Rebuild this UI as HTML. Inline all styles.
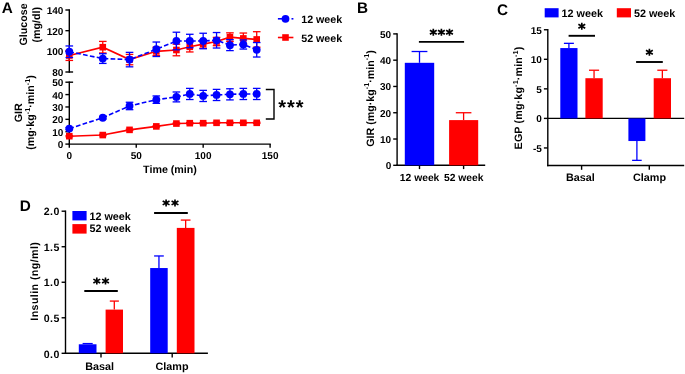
<!DOCTYPE html>
<html><head><meta charset="utf-8"><style>
html,body{margin:0;padding:0;background:#fff;}
body{width:685px;height:374px;overflow:hidden;}
svg{display:block;font-family:"Liberation Sans",sans-serif;will-change:transform;text-rendering:geometricPrecision;}
</style></head><body>
<svg width="685" height="374" viewBox="0 0 685 374">
<rect width="685" height="374" fill="#fff"/>
<text x="1.80" y="12.70" font-size="15.3" text-anchor="start" font-weight="bold" >A</text>
<line x1="69.30" y1="9.30" x2="69.30" y2="72.70" stroke="#000" stroke-width="1.4" />
<line x1="65.40" y1="10.00" x2="69.30" y2="10.00" stroke="#000" stroke-width="1.4" />
<line x1="65.40" y1="30.67" x2="69.30" y2="30.67" stroke="#000" stroke-width="1.4" />
<line x1="65.40" y1="51.33" x2="69.30" y2="51.33" stroke="#000" stroke-width="1.4" />
<line x1="65.40" y1="72.00" x2="73.10" y2="72.00" stroke="#000" stroke-width="1.4" />
<text x="63.40" y="13.95" font-size="10" text-anchor="end" font-weight="bold" >140</text>
<text x="63.40" y="34.62" font-size="10" text-anchor="end" font-weight="bold" >120</text>
<text x="63.40" y="55.28" font-size="10" text-anchor="end" font-weight="bold" >100</text>
<text x="63.40" y="75.95" font-size="10" text-anchor="end" font-weight="bold" >80</text>
<line x1="69.30" y1="81.50" x2="69.30" y2="144.10" stroke="#000" stroke-width="1.4" />
<line x1="65.40" y1="82.20" x2="73.10" y2="82.20" stroke="#000" stroke-width="1.4" />
<line x1="65.40" y1="94.58" x2="69.30" y2="94.58" stroke="#000" stroke-width="1.4" />
<line x1="65.40" y1="106.96" x2="69.30" y2="106.96" stroke="#000" stroke-width="1.4" />
<line x1="65.40" y1="119.34" x2="69.30" y2="119.34" stroke="#000" stroke-width="1.4" />
<line x1="65.40" y1="131.72" x2="69.30" y2="131.72" stroke="#000" stroke-width="1.4" />
<line x1="65.40" y1="144.10" x2="69.30" y2="144.10" stroke="#000" stroke-width="1.4" />
<text x="63.40" y="86.15" font-size="10" text-anchor="end" font-weight="bold" >50</text>
<text x="63.40" y="98.53" font-size="10" text-anchor="end" font-weight="bold" >40</text>
<text x="63.40" y="110.91" font-size="10" text-anchor="end" font-weight="bold" >30</text>
<text x="63.40" y="123.29" font-size="10" text-anchor="end" font-weight="bold" >20</text>
<text x="63.40" y="135.67" font-size="10" text-anchor="end" font-weight="bold" >10</text>
<text x="63.40" y="148.05" font-size="10" text-anchor="end" font-weight="bold" >0</text>
<line x1="68.60" y1="144.10" x2="270.81" y2="144.10" stroke="#000" stroke-width="1.4" />
<line x1="69.30" y1="144.10" x2="69.30" y2="147.80" stroke="#000" stroke-width="1.4" />
<text x="69.30" y="159.30" font-size="10" text-anchor="middle" font-weight="bold" >0</text>
<line x1="136.24" y1="144.10" x2="136.24" y2="147.80" stroke="#000" stroke-width="1.4" />
<text x="136.24" y="159.30" font-size="10" text-anchor="middle" font-weight="bold" >50</text>
<line x1="203.17" y1="144.10" x2="203.17" y2="147.80" stroke="#000" stroke-width="1.4" />
<text x="203.17" y="159.30" font-size="10" text-anchor="middle" font-weight="bold" >100</text>
<line x1="270.11" y1="144.10" x2="270.11" y2="147.80" stroke="#000" stroke-width="1.4" />
<text x="270.11" y="159.30" font-size="10" text-anchor="middle" font-weight="bold" >150</text>
<text x="170.00" y="172.60" font-size="10.7" text-anchor="middle" font-weight="bold" >Time (min)</text>
<text x="27.40" y="24.50" font-size="10.7" text-anchor="middle" font-weight="bold" transform="rotate(-90 27.40 24.50)" >Glucose</text>
<text x="40.50" y="24.70" font-size="10.7" text-anchor="middle" font-weight="bold" transform="rotate(-90 40.50 24.70)" >(mg/dl)</text>
<text x="21.60" y="112.80" font-size="10.7" text-anchor="middle" font-weight="bold" transform="rotate(-90 21.60 112.80)" >GIR</text>
<text x="34.00" y="112.50" font-size="10.7" text-anchor="middle" font-weight="bold" transform="rotate(-90 34.00 112.50)" >(mg·kg<tspan dy="-4.2" font-size="7.2">-1</tspan><tspan dy="4.2">·min</tspan><tspan dy="-4.2" font-size="7.2">-1</tspan><tspan dy="4.2">)</tspan></text>
<polyline points="69.30,55.47 102.77,47.20 129.54,59.60 156.32,51.33 176.40,49.99 189.78,46.79 203.17,44.10 216.56,41.52 229.94,37.18 243.33,38.42 256.72,39.45" fill="none" stroke="#ff0000" stroke-width="1.6" />
<line x1="69.30" y1="50.51" x2="69.30" y2="60.43" stroke="#ff0000" stroke-width="1.3" />
<line x1="65.50" y1="50.51" x2="73.10" y2="50.51" stroke="#ff0000" stroke-width="1.3" />
<line x1="65.50" y1="60.43" x2="73.10" y2="60.43" stroke="#ff0000" stroke-width="1.3" />
<line x1="102.77" y1="41.41" x2="102.77" y2="52.99" stroke="#ff0000" stroke-width="1.3" />
<line x1="98.97" y1="41.41" x2="106.57" y2="41.41" stroke="#ff0000" stroke-width="1.3" />
<line x1="98.97" y1="52.99" x2="106.57" y2="52.99" stroke="#ff0000" stroke-width="1.3" />
<line x1="129.54" y1="54.43" x2="129.54" y2="64.77" stroke="#ff0000" stroke-width="1.3" />
<line x1="125.74" y1="54.43" x2="133.34" y2="54.43" stroke="#ff0000" stroke-width="1.3" />
<line x1="125.74" y1="64.77" x2="133.34" y2="64.77" stroke="#ff0000" stroke-width="1.3" />
<line x1="156.32" y1="47.20" x2="156.32" y2="55.47" stroke="#ff0000" stroke-width="1.3" />
<line x1="152.52" y1="47.20" x2="160.12" y2="47.20" stroke="#ff0000" stroke-width="1.3" />
<line x1="152.52" y1="55.47" x2="160.12" y2="55.47" stroke="#ff0000" stroke-width="1.3" />
<line x1="176.40" y1="44.20" x2="176.40" y2="55.78" stroke="#ff0000" stroke-width="1.3" />
<line x1="172.60" y1="44.20" x2="180.20" y2="44.20" stroke="#ff0000" stroke-width="1.3" />
<line x1="172.60" y1="55.78" x2="180.20" y2="55.78" stroke="#ff0000" stroke-width="1.3" />
<line x1="189.78" y1="41.62" x2="189.78" y2="51.95" stroke="#ff0000" stroke-width="1.3" />
<line x1="185.98" y1="41.62" x2="193.58" y2="41.62" stroke="#ff0000" stroke-width="1.3" />
<line x1="185.98" y1="51.95" x2="193.58" y2="51.95" stroke="#ff0000" stroke-width="1.3" />
<line x1="203.17" y1="39.97" x2="203.17" y2="48.23" stroke="#ff0000" stroke-width="1.3" />
<line x1="199.37" y1="39.97" x2="206.97" y2="39.97" stroke="#ff0000" stroke-width="1.3" />
<line x1="199.37" y1="48.23" x2="206.97" y2="48.23" stroke="#ff0000" stroke-width="1.3" />
<line x1="216.56" y1="37.38" x2="216.56" y2="45.65" stroke="#ff0000" stroke-width="1.3" />
<line x1="212.76" y1="37.38" x2="220.36" y2="37.38" stroke="#ff0000" stroke-width="1.3" />
<line x1="212.76" y1="45.65" x2="220.36" y2="45.65" stroke="#ff0000" stroke-width="1.3" />
<line x1="229.94" y1="32.84" x2="229.94" y2="41.52" stroke="#ff0000" stroke-width="1.3" />
<line x1="226.14" y1="32.84" x2="233.74" y2="32.84" stroke="#ff0000" stroke-width="1.3" />
<line x1="226.14" y1="41.52" x2="233.74" y2="41.52" stroke="#ff0000" stroke-width="1.3" />
<line x1="243.33" y1="33.04" x2="243.33" y2="43.79" stroke="#ff0000" stroke-width="1.3" />
<line x1="239.53" y1="33.04" x2="247.13" y2="33.04" stroke="#ff0000" stroke-width="1.3" />
<line x1="239.53" y1="43.79" x2="247.13" y2="43.79" stroke="#ff0000" stroke-width="1.3" />
<line x1="256.72" y1="31.70" x2="256.72" y2="47.20" stroke="#ff0000" stroke-width="1.3" />
<line x1="252.92" y1="31.70" x2="260.52" y2="31.70" stroke="#ff0000" stroke-width="1.3" />
<line x1="252.92" y1="47.20" x2="260.52" y2="47.20" stroke="#ff0000" stroke-width="1.3" />
<rect x="66.00" y="52.17" width="6.60" height="6.60" fill="#ff0000"/>
<rect x="99.47" y="43.90" width="6.60" height="6.60" fill="#ff0000"/>
<rect x="126.24" y="56.30" width="6.60" height="6.60" fill="#ff0000"/>
<rect x="153.02" y="48.03" width="6.60" height="6.60" fill="#ff0000"/>
<rect x="173.10" y="46.69" width="6.60" height="6.60" fill="#ff0000"/>
<rect x="186.48" y="43.49" width="6.60" height="6.60" fill="#ff0000"/>
<rect x="199.87" y="40.80" width="6.60" height="6.60" fill="#ff0000"/>
<rect x="213.26" y="38.22" width="6.60" height="6.60" fill="#ff0000"/>
<rect x="226.64" y="33.88" width="6.60" height="6.60" fill="#ff0000"/>
<rect x="240.03" y="35.12" width="6.60" height="6.60" fill="#ff0000"/>
<rect x="253.42" y="36.15" width="6.60" height="6.60" fill="#ff0000"/>
<polyline points="69.30,51.75 102.77,58.57 129.54,59.60 156.32,49.27 176.40,41.00 189.78,41.00 203.17,41.00 216.56,40.28 229.94,45.13 243.33,44.51 256.72,49.78" fill="none" stroke="#0000ff" stroke-width="1.6" stroke-dasharray="4.7 2.3"/>
<line x1="69.30" y1="45.96" x2="69.30" y2="57.53" stroke="#0000ff" stroke-width="1.3" />
<line x1="65.50" y1="45.96" x2="73.10" y2="45.96" stroke="#0000ff" stroke-width="1.3" />
<line x1="65.50" y1="57.53" x2="73.10" y2="57.53" stroke="#0000ff" stroke-width="1.3" />
<line x1="102.77" y1="53.71" x2="102.77" y2="63.42" stroke="#0000ff" stroke-width="1.3" />
<line x1="98.97" y1="53.71" x2="106.57" y2="53.71" stroke="#0000ff" stroke-width="1.3" />
<line x1="98.97" y1="63.42" x2="106.57" y2="63.42" stroke="#0000ff" stroke-width="1.3" />
<line x1="129.54" y1="52.37" x2="129.54" y2="66.83" stroke="#0000ff" stroke-width="1.3" />
<line x1="125.74" y1="52.37" x2="133.34" y2="52.37" stroke="#0000ff" stroke-width="1.3" />
<line x1="125.74" y1="66.83" x2="133.34" y2="66.83" stroke="#0000ff" stroke-width="1.3" />
<line x1="156.32" y1="42.03" x2="156.32" y2="56.50" stroke="#0000ff" stroke-width="1.3" />
<line x1="152.52" y1="42.03" x2="160.12" y2="42.03" stroke="#0000ff" stroke-width="1.3" />
<line x1="152.52" y1="56.50" x2="160.12" y2="56.50" stroke="#0000ff" stroke-width="1.3" />
<line x1="176.40" y1="32.22" x2="176.40" y2="49.78" stroke="#0000ff" stroke-width="1.3" />
<line x1="172.60" y1="32.22" x2="180.20" y2="32.22" stroke="#0000ff" stroke-width="1.3" />
<line x1="172.60" y1="49.78" x2="180.20" y2="49.78" stroke="#0000ff" stroke-width="1.3" />
<line x1="189.78" y1="34.28" x2="189.78" y2="47.72" stroke="#0000ff" stroke-width="1.3" />
<line x1="185.98" y1="34.28" x2="193.58" y2="34.28" stroke="#0000ff" stroke-width="1.3" />
<line x1="185.98" y1="47.72" x2="193.58" y2="47.72" stroke="#0000ff" stroke-width="1.3" />
<line x1="203.17" y1="33.25" x2="203.17" y2="48.75" stroke="#0000ff" stroke-width="1.3" />
<line x1="199.37" y1="33.25" x2="206.97" y2="33.25" stroke="#0000ff" stroke-width="1.3" />
<line x1="199.37" y1="48.75" x2="206.97" y2="48.75" stroke="#0000ff" stroke-width="1.3" />
<line x1="216.56" y1="32.53" x2="216.56" y2="48.03" stroke="#0000ff" stroke-width="1.3" />
<line x1="212.76" y1="32.53" x2="220.36" y2="32.53" stroke="#0000ff" stroke-width="1.3" />
<line x1="212.76" y1="48.03" x2="220.36" y2="48.03" stroke="#0000ff" stroke-width="1.3" />
<line x1="229.94" y1="39.66" x2="229.94" y2="50.61" stroke="#0000ff" stroke-width="1.3" />
<line x1="226.14" y1="39.66" x2="233.74" y2="39.66" stroke="#0000ff" stroke-width="1.3" />
<line x1="226.14" y1="50.61" x2="233.74" y2="50.61" stroke="#0000ff" stroke-width="1.3" />
<line x1="243.33" y1="39.97" x2="243.33" y2="49.06" stroke="#0000ff" stroke-width="1.3" />
<line x1="239.53" y1="39.97" x2="247.13" y2="39.97" stroke="#0000ff" stroke-width="1.3" />
<line x1="239.53" y1="49.06" x2="247.13" y2="49.06" stroke="#0000ff" stroke-width="1.3" />
<line x1="256.72" y1="42.55" x2="256.72" y2="57.02" stroke="#0000ff" stroke-width="1.3" />
<line x1="252.92" y1="42.55" x2="260.52" y2="42.55" stroke="#0000ff" stroke-width="1.3" />
<line x1="252.92" y1="57.02" x2="260.52" y2="57.02" stroke="#0000ff" stroke-width="1.3" />
<circle cx="69.30" cy="51.75" r="3.9" fill="#0000ff"/>
<circle cx="102.77" cy="58.57" r="3.9" fill="#0000ff"/>
<circle cx="129.54" cy="59.60" r="3.9" fill="#0000ff"/>
<circle cx="156.32" cy="49.27" r="3.9" fill="#0000ff"/>
<circle cx="176.40" cy="41.00" r="3.9" fill="#0000ff"/>
<circle cx="189.78" cy="41.00" r="3.9" fill="#0000ff"/>
<circle cx="203.17" cy="41.00" r="3.9" fill="#0000ff"/>
<circle cx="216.56" cy="40.28" r="3.9" fill="#0000ff"/>
<circle cx="229.94" cy="45.13" r="3.9" fill="#0000ff"/>
<circle cx="243.33" cy="44.51" r="3.9" fill="#0000ff"/>
<circle cx="256.72" cy="49.78" r="3.9" fill="#0000ff"/>
<polyline points="69.30,136.18 102.77,135.06 129.54,129.86 156.32,126.40 176.40,123.55 189.78,123.18 203.17,123.18 216.56,122.81 229.94,122.81 243.33,122.81 256.72,122.81" fill="none" stroke="#ff0000" stroke-width="1.6" />
<line x1="69.30" y1="135.56" x2="69.30" y2="136.80" stroke="#ff0000" stroke-width="1.3" />
<line x1="65.50" y1="135.56" x2="73.10" y2="135.56" stroke="#ff0000" stroke-width="1.3" />
<line x1="65.50" y1="136.80" x2="73.10" y2="136.80" stroke="#ff0000" stroke-width="1.3" />
<line x1="102.77" y1="134.44" x2="102.77" y2="135.68" stroke="#ff0000" stroke-width="1.3" />
<line x1="98.97" y1="134.44" x2="106.57" y2="134.44" stroke="#ff0000" stroke-width="1.3" />
<line x1="98.97" y1="135.68" x2="106.57" y2="135.68" stroke="#ff0000" stroke-width="1.3" />
<line x1="129.54" y1="129.24" x2="129.54" y2="130.48" stroke="#ff0000" stroke-width="1.3" />
<line x1="125.74" y1="129.24" x2="133.34" y2="129.24" stroke="#ff0000" stroke-width="1.3" />
<line x1="125.74" y1="130.48" x2="133.34" y2="130.48" stroke="#ff0000" stroke-width="1.3" />
<line x1="156.32" y1="125.78" x2="156.32" y2="127.02" stroke="#ff0000" stroke-width="1.3" />
<line x1="152.52" y1="125.78" x2="160.12" y2="125.78" stroke="#ff0000" stroke-width="1.3" />
<line x1="152.52" y1="127.02" x2="160.12" y2="127.02" stroke="#ff0000" stroke-width="1.3" />
<line x1="176.40" y1="122.93" x2="176.40" y2="124.17" stroke="#ff0000" stroke-width="1.3" />
<line x1="172.60" y1="122.93" x2="180.20" y2="122.93" stroke="#ff0000" stroke-width="1.3" />
<line x1="172.60" y1="124.17" x2="180.20" y2="124.17" stroke="#ff0000" stroke-width="1.3" />
<line x1="189.78" y1="122.56" x2="189.78" y2="123.80" stroke="#ff0000" stroke-width="1.3" />
<line x1="185.98" y1="122.56" x2="193.58" y2="122.56" stroke="#ff0000" stroke-width="1.3" />
<line x1="185.98" y1="123.80" x2="193.58" y2="123.80" stroke="#ff0000" stroke-width="1.3" />
<line x1="203.17" y1="122.56" x2="203.17" y2="123.80" stroke="#ff0000" stroke-width="1.3" />
<line x1="199.37" y1="122.56" x2="206.97" y2="122.56" stroke="#ff0000" stroke-width="1.3" />
<line x1="199.37" y1="123.80" x2="206.97" y2="123.80" stroke="#ff0000" stroke-width="1.3" />
<line x1="216.56" y1="122.19" x2="216.56" y2="123.43" stroke="#ff0000" stroke-width="1.3" />
<line x1="212.76" y1="122.19" x2="220.36" y2="122.19" stroke="#ff0000" stroke-width="1.3" />
<line x1="212.76" y1="123.43" x2="220.36" y2="123.43" stroke="#ff0000" stroke-width="1.3" />
<line x1="229.94" y1="122.19" x2="229.94" y2="123.43" stroke="#ff0000" stroke-width="1.3" />
<line x1="226.14" y1="122.19" x2="233.74" y2="122.19" stroke="#ff0000" stroke-width="1.3" />
<line x1="226.14" y1="123.43" x2="233.74" y2="123.43" stroke="#ff0000" stroke-width="1.3" />
<line x1="243.33" y1="122.19" x2="243.33" y2="123.43" stroke="#ff0000" stroke-width="1.3" />
<line x1="239.53" y1="122.19" x2="247.13" y2="122.19" stroke="#ff0000" stroke-width="1.3" />
<line x1="239.53" y1="123.43" x2="247.13" y2="123.43" stroke="#ff0000" stroke-width="1.3" />
<line x1="256.72" y1="122.19" x2="256.72" y2="123.43" stroke="#ff0000" stroke-width="1.3" />
<line x1="252.92" y1="122.19" x2="260.52" y2="122.19" stroke="#ff0000" stroke-width="1.3" />
<line x1="252.92" y1="123.43" x2="260.52" y2="123.43" stroke="#ff0000" stroke-width="1.3" />
<rect x="66.00" y="132.88" width="6.60" height="6.60" fill="#ff0000"/>
<rect x="99.47" y="131.76" width="6.60" height="6.60" fill="#ff0000"/>
<rect x="126.24" y="126.56" width="6.60" height="6.60" fill="#ff0000"/>
<rect x="153.02" y="123.10" width="6.60" height="6.60" fill="#ff0000"/>
<rect x="173.10" y="120.25" width="6.60" height="6.60" fill="#ff0000"/>
<rect x="186.48" y="119.88" width="6.60" height="6.60" fill="#ff0000"/>
<rect x="199.87" y="119.88" width="6.60" height="6.60" fill="#ff0000"/>
<rect x="213.26" y="119.51" width="6.60" height="6.60" fill="#ff0000"/>
<rect x="226.64" y="119.51" width="6.60" height="6.60" fill="#ff0000"/>
<rect x="240.03" y="119.51" width="6.60" height="6.60" fill="#ff0000"/>
<rect x="253.42" y="119.51" width="6.60" height="6.60" fill="#ff0000"/>
<polyline points="69.30,128.62 102.77,117.73 129.54,105.97 156.32,99.66 176.40,96.93 189.78,93.96 203.17,95.94 216.56,94.95 229.94,94.33 243.33,93.96 256.72,93.96" fill="none" stroke="#0000ff" stroke-width="1.6" stroke-dasharray="4.7 2.3"/>
<line x1="69.30" y1="127.63" x2="69.30" y2="129.62" stroke="#0000ff" stroke-width="1.3" />
<line x1="65.50" y1="127.63" x2="73.10" y2="127.63" stroke="#0000ff" stroke-width="1.3" />
<line x1="65.50" y1="129.62" x2="73.10" y2="129.62" stroke="#0000ff" stroke-width="1.3" />
<line x1="102.77" y1="116.49" x2="102.77" y2="118.97" stroke="#0000ff" stroke-width="1.3" />
<line x1="98.97" y1="116.49" x2="106.57" y2="116.49" stroke="#0000ff" stroke-width="1.3" />
<line x1="98.97" y1="118.97" x2="106.57" y2="118.97" stroke="#0000ff" stroke-width="1.3" />
<line x1="129.54" y1="102.26" x2="129.54" y2="109.68" stroke="#0000ff" stroke-width="1.3" />
<line x1="125.74" y1="102.26" x2="133.34" y2="102.26" stroke="#0000ff" stroke-width="1.3" />
<line x1="125.74" y1="109.68" x2="133.34" y2="109.68" stroke="#0000ff" stroke-width="1.3" />
<line x1="156.32" y1="95.94" x2="156.32" y2="103.37" stroke="#0000ff" stroke-width="1.3" />
<line x1="152.52" y1="95.94" x2="160.12" y2="95.94" stroke="#0000ff" stroke-width="1.3" />
<line x1="152.52" y1="103.37" x2="160.12" y2="103.37" stroke="#0000ff" stroke-width="1.3" />
<line x1="176.40" y1="91.98" x2="176.40" y2="101.88" stroke="#0000ff" stroke-width="1.3" />
<line x1="172.60" y1="91.98" x2="180.20" y2="91.98" stroke="#0000ff" stroke-width="1.3" />
<line x1="172.60" y1="101.88" x2="180.20" y2="101.88" stroke="#0000ff" stroke-width="1.3" />
<line x1="189.78" y1="88.39" x2="189.78" y2="99.53" stroke="#0000ff" stroke-width="1.3" />
<line x1="185.98" y1="88.39" x2="193.58" y2="88.39" stroke="#0000ff" stroke-width="1.3" />
<line x1="185.98" y1="99.53" x2="193.58" y2="99.53" stroke="#0000ff" stroke-width="1.3" />
<line x1="203.17" y1="90.37" x2="203.17" y2="101.51" stroke="#0000ff" stroke-width="1.3" />
<line x1="199.37" y1="90.37" x2="206.97" y2="90.37" stroke="#0000ff" stroke-width="1.3" />
<line x1="199.37" y1="101.51" x2="206.97" y2="101.51" stroke="#0000ff" stroke-width="1.3" />
<line x1="216.56" y1="89.38" x2="216.56" y2="100.52" stroke="#0000ff" stroke-width="1.3" />
<line x1="212.76" y1="89.38" x2="220.36" y2="89.38" stroke="#0000ff" stroke-width="1.3" />
<line x1="212.76" y1="100.52" x2="220.36" y2="100.52" stroke="#0000ff" stroke-width="1.3" />
<line x1="229.94" y1="88.76" x2="229.94" y2="99.90" stroke="#0000ff" stroke-width="1.3" />
<line x1="226.14" y1="88.76" x2="233.74" y2="88.76" stroke="#0000ff" stroke-width="1.3" />
<line x1="226.14" y1="99.90" x2="233.74" y2="99.90" stroke="#0000ff" stroke-width="1.3" />
<line x1="243.33" y1="88.39" x2="243.33" y2="99.53" stroke="#0000ff" stroke-width="1.3" />
<line x1="239.53" y1="88.39" x2="247.13" y2="88.39" stroke="#0000ff" stroke-width="1.3" />
<line x1="239.53" y1="99.53" x2="247.13" y2="99.53" stroke="#0000ff" stroke-width="1.3" />
<line x1="256.72" y1="88.39" x2="256.72" y2="99.53" stroke="#0000ff" stroke-width="1.3" />
<line x1="252.92" y1="88.39" x2="260.52" y2="88.39" stroke="#0000ff" stroke-width="1.3" />
<line x1="252.92" y1="99.53" x2="260.52" y2="99.53" stroke="#0000ff" stroke-width="1.3" />
<circle cx="69.30" cy="128.62" r="3.9" fill="#0000ff"/>
<circle cx="102.77" cy="117.73" r="3.9" fill="#0000ff"/>
<circle cx="129.54" cy="105.97" r="3.9" fill="#0000ff"/>
<circle cx="156.32" cy="99.66" r="3.9" fill="#0000ff"/>
<circle cx="176.40" cy="96.93" r="3.9" fill="#0000ff"/>
<circle cx="189.78" cy="93.96" r="3.9" fill="#0000ff"/>
<circle cx="203.17" cy="95.94" r="3.9" fill="#0000ff"/>
<circle cx="216.56" cy="94.95" r="3.9" fill="#0000ff"/>
<circle cx="229.94" cy="94.33" r="3.9" fill="#0000ff"/>
<circle cx="243.33" cy="93.96" r="3.9" fill="#0000ff"/>
<circle cx="256.72" cy="93.96" r="3.9" fill="#0000ff"/>
<polyline points="265.8,89.5 274,89.5 274,119 265.8,119" fill="none" stroke="#000" stroke-width="1.4"/>
<text x="278.20" y="114.00" font-size="20" text-anchor="start" font-weight="bold" letter-spacing="1.0">***</text>
<line x1="277.90" y1="18.80" x2="284.50" y2="18.80" stroke="#0000ff" stroke-width="1.6" />
<line x1="291.50" y1="18.80" x2="293.40" y2="18.80" stroke="#0000ff" stroke-width="1.6" />
<circle cx="285.5" cy="18.8" r="3.9" fill="#0000ff"/>
<line x1="277.90" y1="37.50" x2="293.40" y2="37.50" stroke="#ff0000" stroke-width="1.6" />
<rect x="282.20" y="34.20" width="6.60" height="6.60" fill="#ff0000"/>
<text x="301.20" y="22.90" font-size="10.7" text-anchor="start" font-weight="bold" >12 week</text>
<text x="301.20" y="41.60" font-size="10.7" text-anchor="start" font-weight="bold" >52 week</text>
<text x="357.00" y="12.60" font-size="15.3" text-anchor="start" font-weight="bold" >B</text>
<line x1="397.10" y1="33.20" x2="397.10" y2="165.30" stroke="#000" stroke-width="1.4" />
<line x1="393.20" y1="165.30" x2="397.10" y2="165.30" stroke="#000" stroke-width="1.4" />
<text x="391.20" y="169.25" font-size="10" text-anchor="end" font-weight="bold" >0</text>
<line x1="393.20" y1="139.02" x2="397.10" y2="139.02" stroke="#000" stroke-width="1.4" />
<text x="391.20" y="142.97" font-size="10" text-anchor="end" font-weight="bold" >10</text>
<line x1="393.20" y1="112.74" x2="397.10" y2="112.74" stroke="#000" stroke-width="1.4" />
<text x="391.20" y="116.69" font-size="10" text-anchor="end" font-weight="bold" >20</text>
<line x1="393.20" y1="86.46" x2="397.10" y2="86.46" stroke="#000" stroke-width="1.4" />
<text x="391.20" y="90.41" font-size="10" text-anchor="end" font-weight="bold" >30</text>
<line x1="393.20" y1="60.18" x2="397.10" y2="60.18" stroke="#000" stroke-width="1.4" />
<text x="391.20" y="64.13" font-size="10" text-anchor="end" font-weight="bold" >40</text>
<line x1="393.20" y1="33.90" x2="397.10" y2="33.90" stroke="#000" stroke-width="1.4" />
<text x="391.20" y="37.85" font-size="10" text-anchor="end" font-weight="bold" >50</text>
<line x1="396.40" y1="165.30" x2="485.20" y2="165.30" stroke="#000" stroke-width="1.4" />
<line x1="419.50" y1="165.30" x2="419.50" y2="169.10" stroke="#000" stroke-width="1.4" />
<line x1="463.60" y1="165.30" x2="463.60" y2="169.10" stroke="#000" stroke-width="1.4" />
<rect x="404.80" y="62.81" width="29.40" height="102.49" fill="#0000ff"/>
<line x1="419.50" y1="62.81" x2="419.50" y2="51.51" stroke="#0000ff" stroke-width="1.3" />
<line x1="411.60" y1="51.51" x2="427.40" y2="51.51" stroke="#0000ff" stroke-width="1.3" />
<rect x="449.10" y="120.10" width="29.10" height="45.20" fill="#ff0000"/>
<line x1="463.60" y1="120.10" x2="463.60" y2="112.74" stroke="#ff0000" stroke-width="1.3" />
<line x1="455.80" y1="112.74" x2="471.40" y2="112.74" stroke="#ff0000" stroke-width="1.3" />
<line x1="418.90" y1="41.90" x2="464.10" y2="41.90" stroke="#000" stroke-width="1.9" />
<path d="M433.30 35.70L433.30 28.70M429.88 34.18L436.72 30.23M429.88 30.23L436.72 34.18" stroke="#000" stroke-width="1.65" fill="none"/>
<path d="M441.40 35.70L441.40 28.70M437.98 34.18L444.82 30.23M437.98 30.23L444.82 34.18" stroke="#000" stroke-width="1.65" fill="none"/>
<path d="M449.50 35.70L449.50 28.70M446.08 34.18L452.92 30.23M446.08 30.23L452.92 34.18" stroke="#000" stroke-width="1.65" fill="none"/>
<text x="419.60" y="181.10" font-size="10.3" text-anchor="middle" font-weight="bold" >12 week</text>
<text x="463.70" y="181.10" font-size="10.3" text-anchor="middle" font-weight="bold" >52 week</text>
<text x="373.60" y="98.50" font-size="10.7" text-anchor="middle" font-weight="bold" transform="rotate(-90 373.60 98.50)" >GIR (mg·kg<tspan dy="-4.2" font-size="7.2">-1</tspan><tspan dy="4.2">·min</tspan><tspan dy="-4.2" font-size="7.2">-1</tspan><tspan dy="4.2">)</tspan></text>
<text x="496.90" y="14.50" font-size="15.3" text-anchor="start" font-weight="bold" >C</text>
<line x1="547.80" y1="29.05" x2="547.80" y2="166.20" stroke="#000" stroke-width="1.4" />
<line x1="543.90" y1="29.75" x2="547.80" y2="29.75" stroke="#000" stroke-width="1.4" />
<text x="541.90" y="33.70" font-size="10" text-anchor="end" font-weight="bold" >15</text>
<line x1="543.90" y1="59.30" x2="547.80" y2="59.30" stroke="#000" stroke-width="1.4" />
<text x="541.90" y="63.25" font-size="10" text-anchor="end" font-weight="bold" >10</text>
<line x1="543.90" y1="88.85" x2="547.80" y2="88.85" stroke="#000" stroke-width="1.4" />
<text x="541.90" y="92.80" font-size="10" text-anchor="end" font-weight="bold" >5</text>
<line x1="543.90" y1="118.40" x2="547.80" y2="118.40" stroke="#000" stroke-width="1.4" />
<text x="541.90" y="122.35" font-size="10" text-anchor="end" font-weight="bold" >0</text>
<line x1="543.90" y1="147.95" x2="547.80" y2="147.95" stroke="#000" stroke-width="1.4" />
<text x="541.90" y="151.90" font-size="10" text-anchor="end" font-weight="bold" >-5</text>
<line x1="547.80" y1="118.40" x2="684.20" y2="118.40" stroke="#000" stroke-width="1.4" />
<line x1="547.10" y1="165.50" x2="684.20" y2="165.50" stroke="#000" stroke-width="1.4" />
<line x1="581.60" y1="165.50" x2="581.60" y2="169.80" stroke="#000" stroke-width="1.4" />
<line x1="649.30" y1="165.50" x2="649.30" y2="169.80" stroke="#000" stroke-width="1.4" />
<rect x="560.30" y="48.07" width="17.20" height="70.33" fill="#0000ff"/>
<line x1="568.90" y1="48.07" x2="568.90" y2="43.34" stroke="#0000ff" stroke-width="1.3" />
<line x1="563.90" y1="43.34" x2="573.90" y2="43.34" stroke="#0000ff" stroke-width="1.3" />
<rect x="585.40" y="78.21" width="17.30" height="40.19" fill="#ff0000"/>
<line x1="594.05" y1="78.21" x2="594.05" y2="70.23" stroke="#ff0000" stroke-width="1.3" />
<line x1="589.00" y1="70.23" x2="599.10" y2="70.23" stroke="#ff0000" stroke-width="1.3" />
<rect x="628.40" y="118.40" width="17.00" height="22.64" fill="#0000ff"/>
<line x1="636.90" y1="141.04" x2="636.90" y2="160.36" stroke="#0000ff" stroke-width="1.3" />
<line x1="632.10" y1="160.36" x2="641.70" y2="160.36" stroke="#0000ff" stroke-width="1.3" />
<rect x="653.70" y="78.21" width="17.30" height="40.19" fill="#ff0000"/>
<line x1="662.35" y1="78.21" x2="662.35" y2="70.23" stroke="#ff0000" stroke-width="1.3" />
<line x1="657.30" y1="70.23" x2="667.40" y2="70.23" stroke="#ff0000" stroke-width="1.3" />
<line x1="568.60" y1="35.80" x2="595.00" y2="35.80" stroke="#000" stroke-width="1.9" />
<path d="M581.80 29.70L581.80 22.70M578.38 28.18L585.22 24.22M578.38 24.22L585.22 28.18" stroke="#000" stroke-width="1.65" fill="none"/>
<line x1="636.10" y1="62.00" x2="662.80" y2="62.00" stroke="#000" stroke-width="1.9" />
<path d="M649.40 55.70L649.40 48.70M645.98 54.18L652.82 50.23M645.98 50.23L652.82 54.18" stroke="#000" stroke-width="1.65" fill="none"/>
<rect x="544.70" y="8.20" width="13.90" height="9.20" fill="#0000ff"/>
<text x="561.50" y="16.80" font-size="10.8" text-anchor="start" font-weight="bold" >12 week</text>
<rect x="616.80" y="8.20" width="14.20" height="9.20" fill="#ff0000"/>
<text x="633.90" y="16.80" font-size="10.8" text-anchor="start" font-weight="bold" >52 week</text>
<text x="580.30" y="181.00" font-size="10.8" text-anchor="middle" font-weight="bold" >Basal</text>
<text x="649.50" y="181.00" font-size="10.8" text-anchor="middle" font-weight="bold" >Clamp</text>
<text x="522.40" y="98.00" font-size="10.7" text-anchor="middle" font-weight="bold" transform="rotate(-90 522.40 98.00)" letter-spacing="0.15">EGP (mg·kg<tspan dy="-4.2" font-size="7.2">-1</tspan><tspan dy="4.2">·min</tspan><tspan dy="-4.2" font-size="7.2">-1</tspan><tspan dy="4.2">)</tspan></text>
<text x="19.80" y="211.40" font-size="15.3" text-anchor="start" font-weight="bold" >D</text>
<line x1="65.50" y1="210.50" x2="65.50" y2="353.30" stroke="#000" stroke-width="1.4" />
<line x1="61.60" y1="353.30" x2="65.50" y2="353.30" stroke="#000" stroke-width="1.4" />
<text x="59.70" y="357.50" font-size="10.6" text-anchor="end" font-weight="bold" letter-spacing="0.4">0.0</text>
<line x1="61.60" y1="317.78" x2="65.50" y2="317.78" stroke="#000" stroke-width="1.4" />
<text x="59.70" y="321.98" font-size="10.6" text-anchor="end" font-weight="bold" letter-spacing="0.4">0.5</text>
<line x1="61.60" y1="282.25" x2="65.50" y2="282.25" stroke="#000" stroke-width="1.4" />
<text x="59.70" y="286.45" font-size="10.6" text-anchor="end" font-weight="bold" letter-spacing="0.4">1.0</text>
<line x1="61.60" y1="246.73" x2="65.50" y2="246.73" stroke="#000" stroke-width="1.4" />
<text x="59.70" y="250.93" font-size="10.6" text-anchor="end" font-weight="bold" letter-spacing="0.4">1.5</text>
<line x1="61.60" y1="211.20" x2="65.50" y2="211.20" stroke="#000" stroke-width="1.4" />
<text x="59.70" y="215.40" font-size="10.6" text-anchor="end" font-weight="bold" letter-spacing="0.4">2.0</text>
<line x1="64.80" y1="353.30" x2="207.90" y2="353.30" stroke="#000" stroke-width="1.4" />
<line x1="101.00" y1="353.30" x2="101.00" y2="357.50" stroke="#000" stroke-width="1.4" />
<line x1="172.20" y1="353.30" x2="172.20" y2="357.50" stroke="#000" stroke-width="1.4" />
<rect x="78.80" y="344.28" width="17.70" height="9.02" fill="#0000ff"/>
<line x1="82.60" y1="343.57" x2="92.70" y2="343.57" stroke="#0000ff" stroke-width="1.3" />
<rect x="105.60" y="309.60" width="17.40" height="43.70" fill="#ff0000"/>
<line x1="114.30" y1="309.60" x2="114.30" y2="301.08" stroke="#ff0000" stroke-width="1.3" />
<line x1="109.80" y1="301.08" x2="118.90" y2="301.08" stroke="#ff0000" stroke-width="1.3" />
<rect x="150.20" y="268.04" width="17.50" height="85.26" fill="#0000ff"/>
<line x1="158.95" y1="268.04" x2="158.95" y2="255.96" stroke="#0000ff" stroke-width="1.3" />
<line x1="154.10" y1="255.96" x2="163.80" y2="255.96" stroke="#0000ff" stroke-width="1.3" />
<rect x="176.80" y="227.90" width="17.70" height="125.40" fill="#ff0000"/>
<line x1="185.65" y1="227.90" x2="185.65" y2="220.08" stroke="#ff0000" stroke-width="1.3" />
<line x1="180.80" y1="220.08" x2="190.50" y2="220.08" stroke="#ff0000" stroke-width="1.3" />
<line x1="84.30" y1="291.00" x2="117.80" y2="291.00" stroke="#000" stroke-width="2.0" />
<path d="M96.80 284.60L96.80 277.60M93.38 283.08L100.22 279.12M93.38 279.12L100.22 283.08" stroke="#000" stroke-width="1.65" fill="none"/>
<path d="M105.50 284.60L105.50 277.60M102.08 283.08L108.92 279.12M102.08 279.12L108.92 283.08" stroke="#000" stroke-width="1.65" fill="none"/>
<line x1="154.10" y1="212.90" x2="187.80" y2="212.90" stroke="#000" stroke-width="2.0" />
<path d="M166.10 206.40L166.10 199.40M162.68 204.88L169.52 200.93M162.68 200.93L169.52 204.88" stroke="#000" stroke-width="1.65" fill="none"/>
<path d="M175.00 206.40L175.00 199.40M171.58 204.88L178.42 200.93M171.58 200.93L178.42 204.88" stroke="#000" stroke-width="1.65" fill="none"/>
<rect x="72.40" y="211.00" width="14.20" height="9.40" fill="#0000ff"/>
<rect x="72.40" y="224.10" width="14.20" height="9.50" fill="#ff0000"/>
<text x="89.40" y="219.90" font-size="10.8" text-anchor="start" font-weight="bold" >12 week</text>
<text x="89.40" y="232.30" font-size="10.8" text-anchor="start" font-weight="bold" >52 week</text>
<text x="99.60" y="369.90" font-size="10.8" text-anchor="middle" font-weight="bold" >Basal</text>
<text x="172.00" y="369.90" font-size="10.8" text-anchor="middle" font-weight="bold" >Clamp</text>
<text x="37.60" y="281.20" font-size="10.7" text-anchor="middle" font-weight="bold" transform="rotate(-90 37.60 281.20)" letter-spacing="0.4">Insulin (ng/ml)</text>
</svg>
</body></html>
